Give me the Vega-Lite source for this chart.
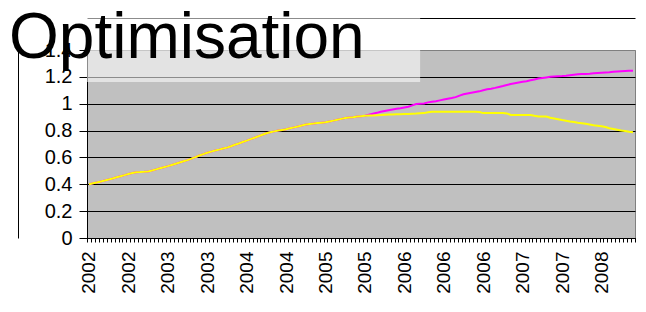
{
"$schema": "https://vega.github.io/schema/vega-lite/v6.json",
"width": 548, "height": 188,
"autosize": {"type": "none"},
"padding": {"left": 87, "top": 50, "right": 11, "bottom": 74},
"background": "white",
"title": {"text": "Optimisation", "anchor": "start", "frame": "group", "font": "Liberation Sans", "fontSize": 64, "fontWeight": "normal", "color": "black", "baseline": "alphabetic", "offset": 0, "dx": -78, "dy": 104},
"config": {"view": {"fill": "#C0C0C0", "stroke": "#808080", "strokeWidth": 1}, "axis": {"labelFont": "Liberation Sans", "labelColor": "black"}},
"data": {"values": [
{"t":"2002-01","a":0.400,"b":0.400},{"t":"2002-02","a":0.407,"b":0.407},{"t":"2002-03","a":0.414,"b":0.414},{"t":"2002-04","a":0.421,"b":0.421},{"t":"2002-05","a":0.428,"b":0.428},
{"t":"2002-06","a":0.435,"b":0.435},{"t":"2002-07","a":0.443,"b":0.443},{"t":"2002-08","a":0.452,"b":0.452},{"t":"2002-09","a":0.460,"b":0.460},{"t":"2002-10","a":0.468,"b":0.468},
{"t":"2002-11","a":0.477,"b":0.477},{"t":"2002-12","a":0.484,"b":0.484},{"t":"2002-13","a":0.490,"b":0.490},{"t":"2002-14","a":0.491,"b":0.491},{"t":"2002-15","a":0.493,"b":0.493},
{"t":"2002-16","a":0.496,"b":0.496},{"t":"2002-17","a":0.503,"b":0.503},{"t":"2002-18","a":0.511,"b":0.511},{"t":"2002-19","a":0.519,"b":0.519},{"t":"2002-20","a":0.527,"b":0.527},
{"t":"2003-01","a":0.535,"b":0.535},{"t":"2003-02","a":0.544,"b":0.544},{"t":"2003-03","a":0.553,"b":0.553},{"t":"2003-04","a":0.562,"b":0.562},{"t":"2003-05","a":0.571,"b":0.571},
{"t":"2003-06","a":0.580,"b":0.580},{"t":"2003-07","a":0.591,"b":0.591},{"t":"2003-08","a":0.602,"b":0.602},{"t":"2003-09","a":0.614,"b":0.614},{"t":"2003-10","a":0.625,"b":0.625},
{"t":"2003-11","a":0.635,"b":0.635},{"t":"2003-12","a":0.643,"b":0.643},{"t":"2003-13","a":0.651,"b":0.651},{"t":"2003-14","a":0.658,"b":0.658},{"t":"2003-15","a":0.666,"b":0.666},
{"t":"2003-16","a":0.673,"b":0.673},{"t":"2003-17","a":0.683,"b":0.683},{"t":"2003-18","a":0.694,"b":0.694},{"t":"2003-19","a":0.704,"b":0.704},{"t":"2003-20","a":0.715,"b":0.715},
{"t":"2004-01","a":0.725,"b":0.725},{"t":"2004-02","a":0.736,"b":0.736},{"t":"2004-03","a":0.747,"b":0.747},{"t":"2004-04","a":0.758,"b":0.758},{"t":"2004-05","a":0.769,"b":0.769},
{"t":"2004-06","a":0.780,"b":0.780},{"t":"2004-07","a":0.787,"b":0.787},{"t":"2004-08","a":0.794,"b":0.794},{"t":"2004-09","a":0.800,"b":0.800},{"t":"2004-10","a":0.805,"b":0.805},
{"t":"2004-11","a":0.810,"b":0.810},{"t":"2004-12","a":0.817,"b":0.817},{"t":"2004-13","a":0.824,"b":0.824},{"t":"2004-14","a":0.831,"b":0.831},{"t":"2004-15","a":0.838,"b":0.838},
{"t":"2004-16","a":0.845,"b":0.845},{"t":"2004-17","a":0.849,"b":0.849},{"t":"2004-18","a":0.852,"b":0.852},{"t":"2004-19","a":0.856,"b":0.856},{"t":"2004-20","a":0.859,"b":0.859},
{"t":"2005-01","a":0.862,"b":0.862},{"t":"2005-02","a":0.868,"b":0.868},{"t":"2005-03","a":0.874,"b":0.874},{"t":"2005-04","a":0.881,"b":0.881},{"t":"2005-05","a":0.887,"b":0.887},
{"t":"2005-06","a":0.893,"b":0.893},{"t":"2005-07","a":0.897,"b":0.897},{"t":"2005-08","a":0.900,"b":0.900},{"t":"2005-09","a":0.904,"b":0.904},{"t":"2005-10","a":0.907,"b":0.907},
{"t":"2005-11","a":0.910,"b":0.910},{"t":"2005-12","a":0.912,"b":0.918},{"t":"2005-13","a":0.913,"b":0.925},{"t":"2005-14","a":0.915,"b":0.932},{"t":"2005-15","a":0.916,"b":0.940},
{"t":"2005-16","a":0.918,"b":0.946},{"t":"2005-17","a":0.919,"b":0.952},{"t":"2005-18","a":0.920,"b":0.957},{"t":"2005-19","a":0.921,"b":0.962},{"t":"2005-20","a":0.922,"b":0.966},
{"t":"2006-01","a":0.923,"b":0.972},{"t":"2006-02","a":0.924,"b":0.978},{"t":"2006-03","a":0.926,"b":0.988},{"t":"2006-04","a":0.927,"b":0.998},{"t":"2006-05","a":0.929,"b":1.000},
{"t":"2006-06","a":0.930,"b":1.002},{"t":"2006-07","a":0.936,"b":1.010},{"t":"2006-08","a":0.940,"b":1.015},{"t":"2006-09","a":0.940,"b":1.019},{"t":"2006-10","a":0.940,"b":1.025},
{"t":"2006-11","a":0.940,"b":1.031},{"t":"2006-12","a":0.940,"b":1.037},{"t":"2006-13","a":0.940,"b":1.042},{"t":"2006-14","a":0.940,"b":1.049},{"t":"2006-15","a":0.940,"b":1.060},
{"t":"2006-16","a":0.940,"b":1.070},{"t":"2006-17","a":0.940,"b":1.076},{"t":"2006-18","a":0.940,"b":1.082},{"t":"2006-19","a":0.940,"b":1.087},{"t":"2006-20","a":0.938,"b":1.092},
{"t":"2006-21","a":0.930,"b":1.100},{"t":"2006-22","a":0.930,"b":1.107},{"t":"2006-23","a":0.930,"b":1.112},{"t":"2006-24","a":0.930,"b":1.118},{"t":"2006-25","a":0.930,"b":1.125},
{"t":"2007-01","a":0.930,"b":1.132},{"t":"2007-02","a":0.928,"b":1.140},{"t":"2007-03","a":0.916,"b":1.147},{"t":"2007-04","a":0.916,"b":1.153},{"t":"2007-05","a":0.916,"b":1.158},
{"t":"2007-06","a":0.916,"b":1.163},{"t":"2007-07","a":0.916,"b":1.168},{"t":"2007-08","a":0.916,"b":1.175},{"t":"2007-09","a":0.910,"b":1.181},{"t":"2007-10","a":0.905,"b":1.187},
{"t":"2007-11","a":0.905,"b":1.192},{"t":"2007-12","a":0.905,"b":1.196},{"t":"2007-13","a":0.895,"b":1.200},{"t":"2007-14","a":0.890,"b":1.203},{"t":"2007-15","a":0.884,"b":1.205},
{"t":"2007-16","a":0.878,"b":1.206},{"t":"2007-17","a":0.873,"b":1.208},{"t":"2007-18","a":0.868,"b":1.212},{"t":"2007-19","a":0.864,"b":1.216},{"t":"2007-20","a":0.859,"b":1.219},
{"t":"2008-01","a":0.855,"b":1.221},{"t":"2008-02","a":0.850,"b":1.222},{"t":"2008-03","a":0.845,"b":1.224},{"t":"2008-04","a":0.840,"b":1.227},{"t":"2008-05","a":0.836,"b":1.229},
{"t":"2008-06","a":0.832,"b":1.231},{"t":"2008-07","a":0.826,"b":1.233},{"t":"2008-08","a":0.818,"b":1.235},{"t":"2008-09","a":0.812,"b":1.238},{"t":"2008-10","a":0.806,"b":1.240},
{"t":"2008-11","a":0.800,"b":1.242},{"t":"2008-12","a":0.796,"b":1.244},{"t":"2008-13","a":0.791,"b":1.245},{"t":"2008-14","a":0.787,"b":1.245}
]},
"layer": [
 {"mark": {"type": "line", "color": "#FF00FF", "strokeWidth": 2},
  "encoding": {
   "x": {"field": "t", "type": "ordinal", "bandPosition": 0.5, "scale": {"type": "band", "paddingInner": 0, "paddingOuter": 0},
     "axis": {"orient": "bottom", "title": null, "zindex": 0, "labelAngle": 270, "labelAlign": "right", "labelBaseline": "middle", "labelFontSize": 19, "labelPadding": 9, "tickSize": 4, "tickColor": "black", "domainColor": "black", "tickBand": "extent", "labelOverlap": false, "grid": false,
       "labelExpr": "round(datum.index*138) % 10 == 0 ? slice(datum.value, 0, 4) : ''"}},
   "y": {"field": "b", "type": "quantitative", "scale": {"domain": [0, 1.4], "nice": false},
     "axis": {"orient": "left", "title": null, "zindex": 0, "values": [0, 0.2, 0.4, 0.6, 0.8, 1, 1.2, 1.4], "format": "~g", "grid": true, "gridColor": {"condition": {"test": "datum.value >= 1.39", "value": "#808080"}, "value": "black"}, "gridOpacity": 1, "gridWidth": 1, "tickSize": 8, "tickColor": "black", "domainColor": "black", "labelFontSize": 20, "labelPadding": 7}}
  }},
 {"mark": {"type": "line", "color": "#FFFF00", "strokeWidth": 2},
  "encoding": {
   "x": {"field": "t", "type": "ordinal", "bandPosition": 0.5,
     "axis": {"orient": "top", "offset": 32, "title": null, "zindex": 0, "labels": false, "ticks": false, "grid": false, "domainColor": "black"}},
   "y": {"field": "a", "type": "quantitative",
     "axis": {"orient": "left", "offset": 69, "title": null, "zindex": 0, "labels": false, "ticks": false, "grid": false, "domainColor": "black"}}
  }},
 {"data": {"values": [{}]},
  "mark": {"type": "rect", "color": "white", "opacity": 0.55, "clip": false},
  "encoding": {
   "x": {"datum": "2002-01", "type": "ordinal", "bandPosition": 0, "axis": null},
   "x2": {"datum": "2006-05"},
   "y": {"datum": 1.64, "type": "quantitative", "axis": null},
   "y2": {"datum": 1.162}
  }}
],
"resolve": {"axis": {"x": "independent", "y": "independent"}}
}
